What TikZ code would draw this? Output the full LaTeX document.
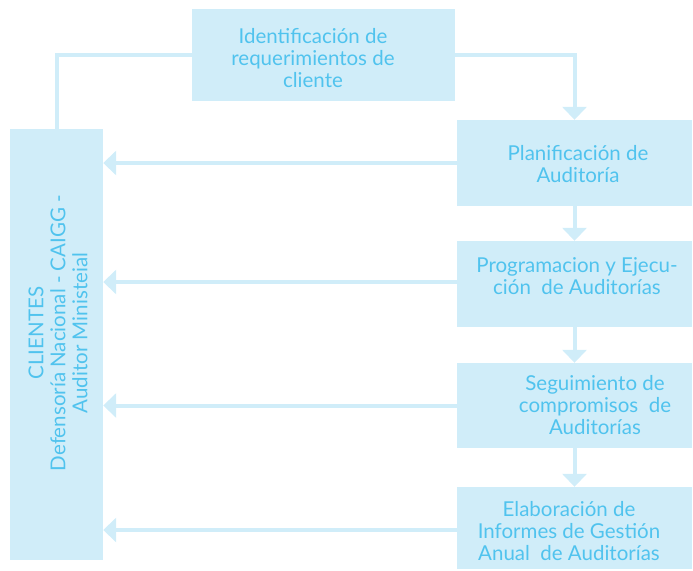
\documentclass[tikz,border=0pt]{standalone}
\usepackage{fontspec}
\setmainfont{Lato}
\usetikzlibrary{arrows.meta}
\definecolor{boxfill}{RGB}{208,237,249}
\definecolor{txt}{RGB}{80,195,238}
\tikzset{
  box/.style={rectangle, fill=boxfill, draw=none, inner sep=0pt},
  lbl/.style={text=txt, align=center, inner sep=0pt, font=\fontsize{20.5}{22}\selectfont},
  conn/.style={draw=boxfill, line width=4pt},
  arr/.style={conn, -{Triangle[width=24pt,length=13pt,fill=boxfill]}}
}
\begin{document}
\begin{tikzpicture}[x=1pt,y=-1pt]
\useasboundingbox (0,0) rectangle (693,570);
% boxes
\node[box, minimum width=263pt, minimum height=92pt] (top) at (323.5,55) {};
\node[box, minimum width=93pt, minimum height=431pt] (cli) at (56.5,344.5) {};
\node[box, minimum width=235pt, minimum height=86pt] (plan) at (574.5,163) {};
\node[box, minimum width=235pt, minimum height=86pt] (prog) at (574.5,284) {};
\node[box, minimum width=235pt, minimum height=85pt] (seg) at (574.5,405.5) {};
\node[box, minimum width=235pt, minimum height=82pt] (elab) at (574.5,528) {};
% labels
\node[lbl] (toptext) at (313,58) {Identificación de\\requerimientos de\\cliente};
\node[lbl, rotate=90] (clitext) at (58,333) {CLIENTES\\Defensoría Nacional - CAIGG -\\Auditor Ministeial};
\node[lbl] (plantext) at (578,164) {Planificación de\\Auditoría};
\node[lbl] (progtext) at (577,276.5) {Programacion y Ejecu-\\ción\ \ de Auditorías};
\node[lbl] (segtext) at (595,405.5) {Seguimiento de\\compromisos\ \ de\\Auditorías};
\node[lbl] (elabtext) at (569,531) {Elaboración de\\Informes de Gestión\\Anual\ \ de Auditorías};
% connectors
\draw[conn] (top.west) -| (cli.north);
\draw[arr] (top.east) -| (plan.north);
\draw[arr] (plan.south) -- (prog.north);
\draw[arr] (prog.south) -- (seg.north);
\draw[arr] (seg.south) -- (elab.north);
\draw[arr] (plan.west) -- (plan.west -| cli.east);
\draw[arr] ([yshift=2pt]prog.west) -- ([yshift=2pt]prog.west -| cli.east);
\draw[arr] (seg.west) -- (seg.west -| cli.east);
\draw[arr] ([yshift=-2pt]elab.west) -- ([yshift=-2pt]elab.west -| cli.east);
\end{tikzpicture}
\end{document}
